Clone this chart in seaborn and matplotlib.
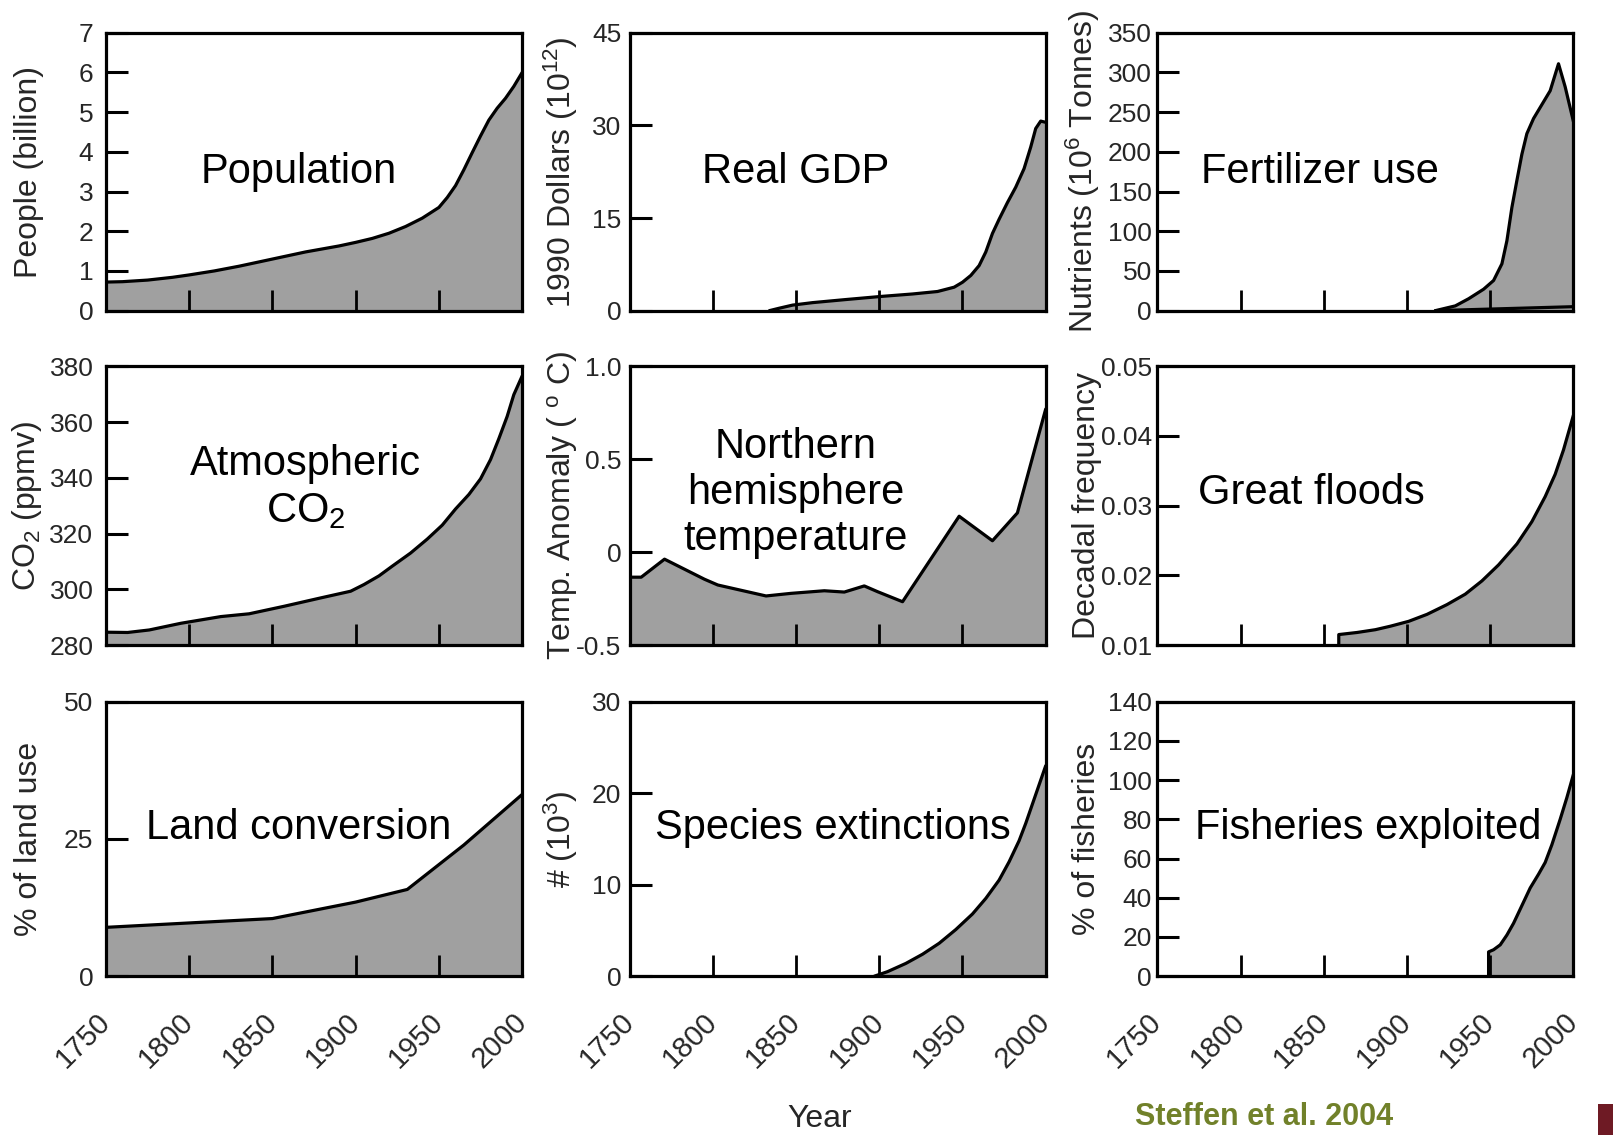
import numpy as np
import pandas as pd
import matplotlib
matplotlib.use("Agg")
import matplotlib.pyplot as plt
import seaborn as sns
from matplotlib.patches import Rectangle

# ---------------- data ----------------
pop_years = [1750, 1760, 1775, 1790, 1800, 1815, 1830, 1850, 1870, 1890, 1900, 1910, 1920,
             1930, 1940, 1950, 1955, 1960, 1965, 1970, 1975, 1980, 1985, 1990, 1995, 2000]
pop_values = [0.72, 0.73, 0.77, 0.84, 0.9, 1.0, 1.12, 1.3, 1.48, 1.63, 1.72, 1.82, 1.95,
              2.12, 2.33, 2.6, 2.85, 3.15, 3.55, 3.98, 4.4, 4.8, 5.1, 5.35, 5.65, 6.0]

gdp_years = [1834, 1840, 1848, 1860, 1880, 1901, 1920, 1935, 1945, 1950, 1955, 1960, 1964,
             1968, 1972, 1977, 1982, 1987, 1991, 1994, 1997, 2000]
gdp_values = [0.0, 0.4, 0.9, 1.3, 1.8, 2.3, 2.7, 3.1, 3.8, 4.6, 5.7, 7.3, 9.5,
              12.5, 14.8, 17.5, 20.0, 23.0, 26.5, 29.5, 30.7, 30.5]

fert_years = [1917, 1929, 1937, 1946, 1952, 1957, 1960, 1963, 1966, 1969, 1972, 1976,
              1980, 1986, 1991, 1995, 2000]
fert_values = [0, 6, 15, 27, 38, 59, 88, 130, 164, 197, 223, 242,
               256, 277, 311, 282, 238]
fert_base_years = [1917, 2000]
fert_base_values = [0, 5]

co2_years = [1750, 1763, 1776, 1795, 1819, 1836, 1857, 1879, 1897, 1905, 1914, 1922, 1933,
             1943, 1952, 1960, 1968, 1975, 1981, 1986, 1991, 1995, 2000]
co2_values = [284.6, 284.5, 285.4, 287.8, 290.2, 291.2, 293.9, 296.9, 299.3, 301.7, 304.8,
              308.3, 313.0, 318.0, 323.0, 328.8, 334.0, 339.6, 346.5, 354.0, 362.0, 369.8, 376.5]

temp_years = [1750, 1757, 1771, 1795, 1803, 1832, 1847, 1867, 1879, 1891, 1899, 1914, 1948,
              1968, 1983, 2000]
temp_values = [-0.135, -0.135, -0.038, -0.146, -0.177, -0.236, -0.222, -0.208, -0.215, -0.182,
               -0.213, -0.267, 0.193, 0.061, 0.211, 0.77]

flood_years = [1859, 1859, 1870, 1881, 1890, 1901, 1912, 1924, 1935, 1945, 1955, 1966, 1975,
               1983, 1989, 1994, 2000]
flood_values = [0.010, 0.0115, 0.0118, 0.0122, 0.0127, 0.0134, 0.0144, 0.0158, 0.0173, 0.0192,
                0.0215, 0.0245, 0.0277, 0.0313, 0.0345, 0.0380, 0.0430]

land_years = [1750, 1800, 1850, 1900, 1931, 1965, 2000]
land_values = [8.9, 9.7, 10.5, 13.5, 15.8, 23.9, 33.1]

species_years = [1897, 1905, 1916, 1926, 1936, 1946, 1956, 1964, 1972, 1978, 1984, 1988,
                 1992, 1996, 2000]
species_values = [0.0, 0.5, 1.4, 2.4, 3.6, 5.1, 6.8, 8.5, 10.5, 12.5, 14.8, 16.7,
                  18.8, 20.9, 23.0]

fish_years = [1949, 1949, 1952, 1956, 1960, 1964, 1969, 1974, 1979, 1983, 1987, 1992, 1996, 2000]
fish_values = [0, 12.4, 13.5, 16, 21, 27, 36, 45, 52, 58, 67, 80, 91, 103]

x_ticks = [1750, 1800, 1850, 1900, 1950, 2000]
x_ticklabels = ["1750", "1800", "1850", "1900", "1950", "2000"]

# ---------------- style ----------------
sns.set_style("white")
plt.rcParams["font.family"] = ["Liberation Sans", "DejaVu Sans"]
plt.rcParams["mathtext.default"] = "regular"

FILL = "#a0a0a0"
LW = 2.3

fig = plt.figure(figsize=(16.13, 11.35), dpi=100)
lefts = [0.0657, 0.3903, 0.7175]
bottoms = [0.7263, 0.4317, 0.1399]
heights = [0.2448, 0.2456, 0.2419]
width = 0.258
ylab_x = [-0.15, -0.118, -0.133]
ypad = [9, 6, 4]

panels = [
    # row 0
    dict(x=pop_years, y=pop_values, base=0, ylim=(0, 7), yticks=list(range(0, 8)),
         yticklabels=[str(v) for v in range(0, 8)], ylabel="People (billion)",
         title="Population", tpos=(0.463, 0.50)),
    dict(x=gdp_years, y=gdp_values, base=0, ylim=(0, 45), yticks=[0, 15, 30, 45],
         yticklabels=["0", "15", "30", "45"], ylabel="1990 Dollars (10$^{12}$)",
         title="Real GDP", tpos=(0.40, 0.50)),
    dict(x=fert_years, y=fert_values, base=0, ylim=(0, 350), yticks=list(range(0, 351, 50)),
         yticklabels=[str(v) for v in range(0, 351, 50)], ylabel="Nutrients (10$^6$ Tonnes)",
         title="Fertilizer use", tpos=(0.39, 0.50),
         extra=(fert_base_years, fert_base_values)),
    # row 1
    dict(x=co2_years, y=co2_values, base=280, ylim=(280, 380), yticks=list(range(280, 381, 20)),
         yticklabels=[str(v) for v in range(280, 381, 20)], ylabel="CO$_2$ (ppmv)",
         title="Atmospheric\nCO$_2$", tpos=(0.48, 0.565)),
    dict(x=temp_years, y=temp_values, base=-0.5, ylim=(-0.5, 1.0), yticks=[-0.5, 0, 0.5, 1.0],
         yticklabels=["-0.5", "0", "0.5", "1.0"], ylabel="Temp. Anomaly ( $^{o}$ C)",
         title="Northern\nhemisphere\ntemperature", tpos=(0.40, 0.545)),
    dict(x=flood_years, y=flood_values, base=0.01, ylim=(0.01, 0.05),
         yticks=[0.01, 0.02, 0.03, 0.04, 0.05],
         yticklabels=["0.01", "0.02", "0.03", "0.04", "0.05"], ylabel="Decadal frequency",
         title="Great floods", tpos=(0.37, 0.545)),
    # row 2
    dict(x=land_years, y=land_values, base=0, ylim=(0, 50), yticks=[0, 25, 50],
         yticklabels=["0", "25", "50"], ylabel="% of land use",
         title="Land conversion", tpos=(0.463, 0.54)),
    dict(x=species_years, y=species_values, base=0, ylim=(0, 30), yticks=[0, 10, 20, 30],
         yticklabels=["0", "10", "20", "30"], ylabel="# (10$^3$)",
         title="Species extinctions", tpos=(0.488, 0.54)),
    dict(x=fish_years, y=fish_values, base=0, ylim=(0, 140), yticks=list(range(0, 141, 20)),
         yticklabels=[str(v) for v in range(0, 141, 20)], ylabel="% of fisheries",
         title="Fisheries exploited", tpos=(0.506, 0.54)),
]

for i, p in enumerate(panels):
    r, c = divmod(i, 3)
    ax = fig.add_axes([lefts[c], bottoms[r], width, heights[r]])
    ax.set_axisbelow(False)
    df = pd.DataFrame({"year": p["x"], "value": p["y"]})
    ax.fill_between(p["x"], p["y"], p["base"], color=FILL, lw=0, zorder=1)
    sns.lineplot(data=df, x="year", y="value", ax=ax, color="black", lw=LW,
                 estimator=None, sort=False, zorder=2)
    if "extra" in p:
        ex, ey = p["extra"]
        sns.lineplot(x=ex, y=ey, ax=ax, color="black", lw=LW, estimator=None,
                     sort=False, zorder=2)
    ax.set_xlim(1750, 2000)
    ax.set_ylim(*p["ylim"])
    ax.set_xticks(x_ticks)
    ax.set_yticks(p["yticks"])
    ax.set_yticklabels(p["yticklabels"])
    for s in ax.spines.values():
        s.set_visible(True)
        s.set_linewidth(LW)
        s.set_color("black")
        s.set_zorder(3)
    ax.tick_params(axis="x", direction="in", length=15, width=2.0, color="black",
                   bottom=True, top=False)
    ax.tick_params(axis="y", direction="in", length=16, width=2.2, color="black",
                   left=True, right=False, labelsize=19, pad=ypad[c])
    if r == 2:
        ax.set_xticklabels(x_ticklabels, rotation=45, ha="right", va="center",
                           rotation_mode="anchor", fontsize=21)
        ax.tick_params(axis="x", pad=30)
    else:
        ax.set_xticklabels([])
    ax.set_xlabel("")
    ax.set_ylabel(p["ylabel"], fontsize=23)
    ax.yaxis.set_label_coords(ylab_x[c], 0.5)
    ax.text(p["tpos"][0], p["tpos"][1], p["title"], transform=ax.transAxes,
            ha="center", va="center", fontsize=30, color="black", zorder=4)

fig.text(0.508, 0.014, "Year", ha="center", va="center", fontsize=23)
fig.text(0.7036, 0.003, "Steffen et al. 2004", ha="left", va="bottom", fontsize=22,
         fontweight="bold", color="#71812a")
fig.patches.append(Rectangle((0.9907, 0.0), 0.0093, 0.027, transform=fig.transFigure,
                             facecolor="#6e1a24", edgecolor="none", figure=fig))

fig.savefig("out.png", dpi=100, facecolor="white")
